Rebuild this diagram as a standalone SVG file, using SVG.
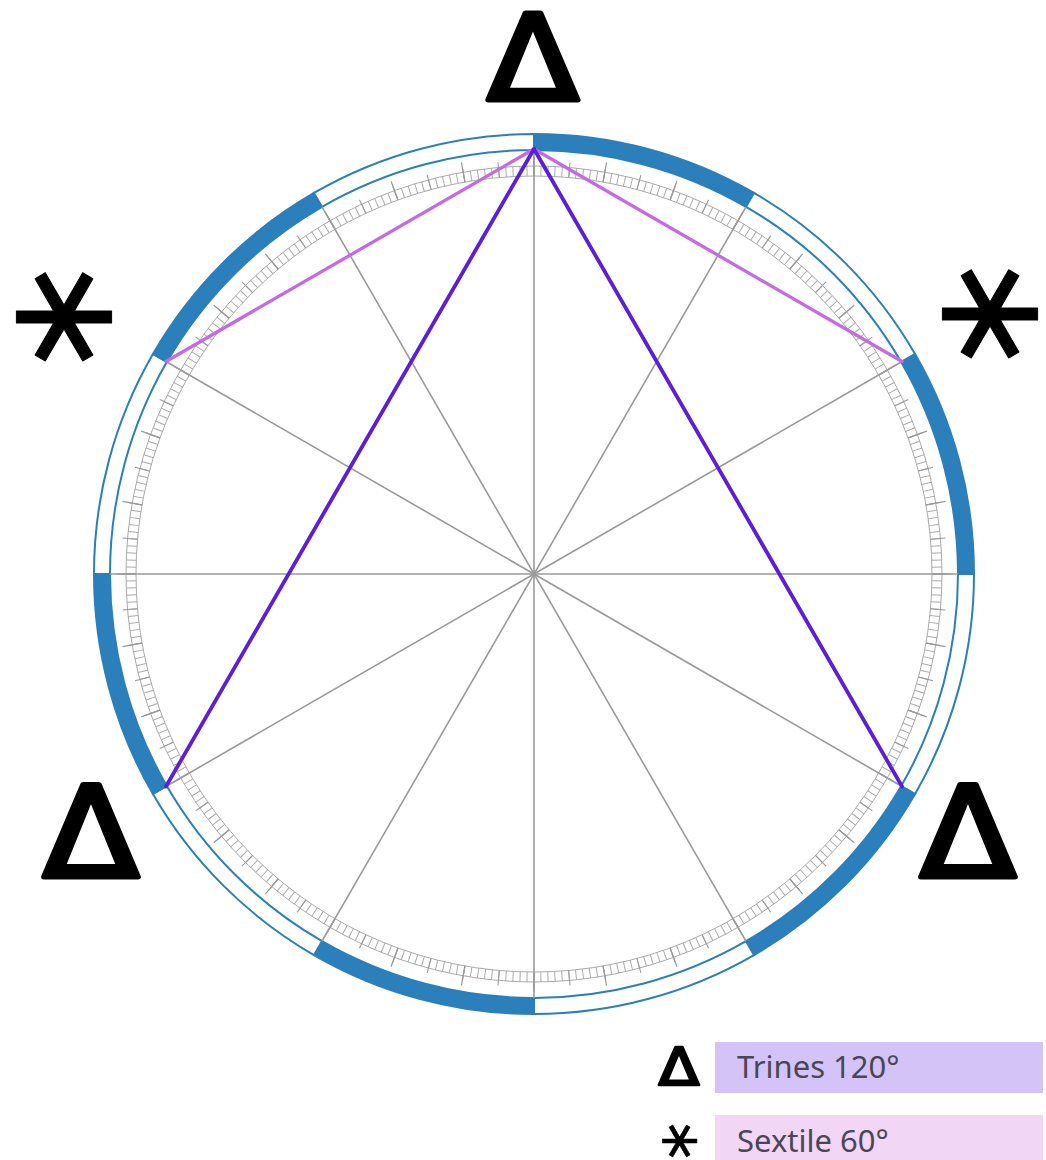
<svg xmlns="http://www.w3.org/2000/svg" width="1046" height="1160" viewBox="0 0 1046 1160">
<defs>
<style>
.seg{stroke:#2b7fbb;stroke-width:2;stroke-linejoin:miter}
.fill{fill:#2b7fbb}
.white{fill:#ffffff}
.spoke{stroke:#9a9a9a;stroke-width:1.6}
.ladder{fill:none;stroke:#aaaaaa;stroke-width:1}
.trine{stroke:#5a1fd9;stroke-width:3.8;stroke-linecap:round}
.sextile{stroke:#c56ae6;stroke-width:3.3;stroke-linecap:round}
.big{font-family:"DejaVu Sans","Noto Sans",sans-serif;font-weight:normal;fill:#000;stroke:#000;stroke-linejoin:round;text-anchor:middle}
.leg{font-family:"Noto Sans","Open Sans",sans-serif;font-size:31px;fill:#4a4656}
</style>
</defs>
<rect width="1046" height="1160" fill="#ffffff"/>
<g id="ring">
<path class="seg fill" d="M534,134 A440,440 0 0 1 754,192.95 L746,206.81 A424,424 0 0 0 534,150 Z"/>
<path class="seg white" d="M754,192.95 A440,440 0 0 1 915.05,354 L901.19,362 A424,424 0 0 0 746,206.81 Z"/>
<path class="seg fill" d="M915.05,354 A440,440 0 0 1 974,574 L958,574 A424,424 0 0 0 901.19,362 Z"/>
<path class="seg white" d="M974,574 A440,440 0 0 1 915.05,794 L901.19,786 A424,424 0 0 0 958,574 Z"/>
<path class="seg fill" d="M915.05,794 A440,440 0 0 1 754,955.05 L746,941.19 A424,424 0 0 0 901.19,786 Z"/>
<path class="seg white" d="M754,955.05 A440,440 0 0 1 534,1014 L534,998 A424,424 0 0 0 746,941.19 Z"/>
<path class="seg fill" d="M534,1014 A440,440 0 0 1 314,955.05 L322,941.19 A424,424 0 0 0 534,998 Z"/>
<path class="seg white" d="M314,955.05 A440,440 0 0 1 152.95,794 L166.81,786 A424,424 0 0 0 322,941.19 Z"/>
<path class="seg fill" d="M152.95,794 A440,440 0 0 1 94,574 L110,574 A424,424 0 0 0 166.81,786 Z"/>
<path class="seg white" d="M94,574 A440,440 0 0 1 152.95,354 L166.81,362 A424,424 0 0 0 110,574 Z"/>
<path class="seg fill" d="M152.95,354 A440,440 0 0 1 314,192.95 L322,206.81 A424,424 0 0 0 166.81,362 Z"/>
<path class="seg white" d="M314,192.95 A440,440 0 0 1 534,134 L534,150 A424,424 0 0 0 322,206.81 Z"/>
</g>
<g id="scale">
<circle class="ladder" cx="534" cy="574" r="398"/>
<circle class="ladder" cx="534" cy="574" r="408"/>
<circle cx="534" cy="574" r="403" fill="none" stroke="#aaaaaa" stroke-width="10" pathLength="360" stroke-dasharray="0.14 0.86" stroke-dashoffset="0.07"/>
<circle cx="534" cy="574" r="405.5" fill="none" stroke="#999999" stroke-width="15" pathLength="360" stroke-dasharray="0.15 4.85" stroke-dashoffset="0.075"/>
<circle cx="534" cy="574" r="408" fill="none" stroke="#999999" stroke-width="20" pathLength="360" stroke-dasharray="0.17 9.83" stroke-dashoffset="0.085"/>
</g>
<g id="spokes">
<line class="spoke" x1="110" y1="574" x2="958" y2="574"/>
<line class="spoke" x1="534" y1="150" x2="534" y2="998"/>
<line class="spoke" x1="166.81" y1="362" x2="901.19" y2="786"/>
<line class="spoke" x1="166.81" y1="786" x2="901.19" y2="362"/>
<line class="spoke" x1="322" y1="206.81" x2="746" y2="941.19"/>
<line class="spoke" x1="322" y1="941.19" x2="746" y2="206.81"/>
</g>
<g id="aspects">
<line class="sextile" x1="534" y1="149" x2="165.94" y2="361.5"/>
<line class="sextile" x1="534" y1="149" x2="902.06" y2="361.5"/>
<line class="trine" x1="534" y1="149" x2="165.94" y2="786.5"/>
<line class="trine" x1="534" y1="149" x2="902.06" y2="786.5"/>
</g>
<g id="symbols">
<text class="big" transform="translate(533,100) scale(1.12,1)" font-size="120" stroke-width="5">Δ</text>
<text class="big" transform="translate(91,877) scale(1.12,1)" font-size="126" stroke-width="5">Δ</text>
<text class="big" transform="translate(968,877) scale(1.12,1)" font-size="126" stroke-width="5">Δ</text>
<text class="big" x="64" y="359" font-size="170" stroke-width="1">⚹</text>
<text class="big" x="990" y="356" font-size="170" stroke-width="1">⚹</text>
</g>
<g id="legend">
<text class="big" transform="translate(679,1085) scale(1.15,1)" font-size="52" stroke-width="2.5">Δ</text>
<rect x="715" y="1042" width="328" height="51" fill="#d4c3f6"/>
<text class="leg" x="737" y="1078">Trines 120°</text>
<text class="big" x="679" y="1156" font-size="62" stroke-width="0.5">⚹</text>
<rect x="715" y="1115" width="328" height="50" fill="#f1d6f5"/>
<text class="leg" x="737" y="1152">Sextile 60°</text>
</g>
</svg>
